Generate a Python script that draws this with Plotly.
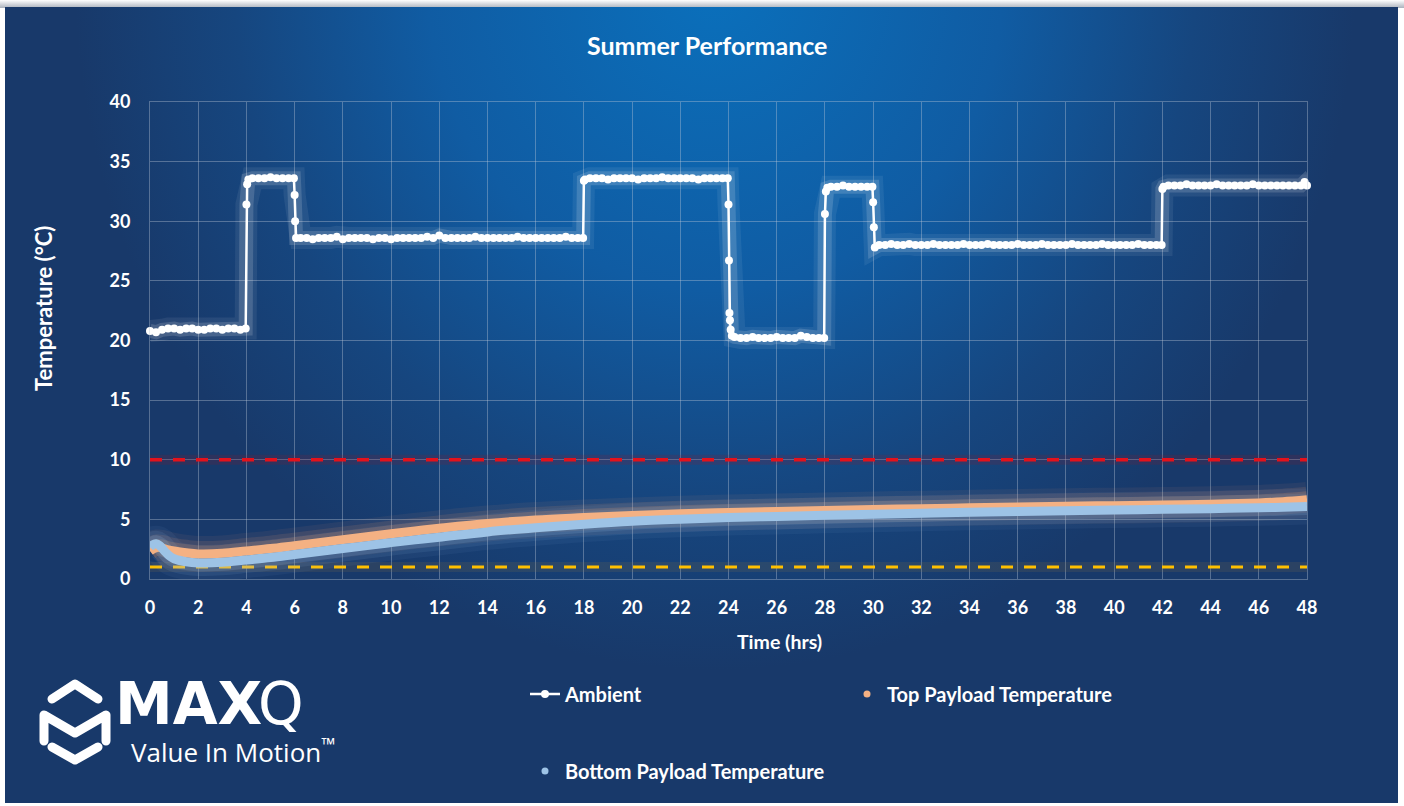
import base64
import plotly.graph_objects as go

# ---------------- data ----------------
# Ambient chamber temperature log (hours, °C)
ambient_hours = [
    0.00, 0.25, 0.50, 0.75, 1.00, 1.25, 1.50, 1.75, 2.00, 2.25, 2.50, 2.75, 3.00, 3.25, 3.50, 3.75, 3.97,
    4.00, 4.03, 4.08,
    4.25, 4.50, 4.75, 5.00, 5.25, 5.50, 5.75, 5.97,
    6.00, 6.02, 6.06,
    6.25, 6.50, 6.75, 7.00, 7.25, 7.50, 7.75, 8.00,
    8.25, 8.50, 8.75, 9.00, 9.25, 9.50, 9.75, 10.00,
    10.25, 10.50, 10.75, 11.00, 11.25, 11.50, 11.75, 12.00,
    12.25, 12.50, 12.75, 13.00, 13.25, 13.50, 13.75, 14.00,
    14.25, 14.50, 14.75, 15.00, 15.25, 15.50, 15.75, 16.00,
    16.25, 16.50, 16.75, 17.00, 17.25, 17.50, 17.75, 17.97,
    18.00, 18.05,
    18.25, 18.50, 18.75, 19.00, 19.25, 19.50, 19.75, 20.00,
    20.25, 20.50, 20.75, 21.00, 21.25, 21.50, 21.75, 22.00,
    22.25, 22.50, 22.75, 23.00, 23.25, 23.50, 23.75, 23.97,
    24.00, 24.02, 24.04, 24.06, 24.09, 24.14,
    24.25, 24.50, 24.75, 25.00, 25.25, 25.50, 25.75, 26.00,
    26.25, 26.50, 26.75, 27.00, 27.25, 27.50, 27.75, 27.97,
    28.00, 28.04, 28.10,
    28.25, 28.50, 28.75, 29.00, 29.25, 29.50, 29.75, 29.97,
    30.00, 30.03, 30.07,
    30.25, 30.50, 30.75, 31.00, 31.25, 31.50, 31.75, 32.00,
    32.25, 32.50, 32.75, 33.00, 33.25, 33.50, 33.75, 34.00,
    34.25, 34.50, 34.75, 35.00, 35.25, 35.50, 35.75, 36.00,
    36.25, 36.50, 36.75, 37.00, 37.25, 37.50, 37.75, 38.00,
    38.25, 38.50, 38.75, 39.00, 39.25, 39.50, 39.75, 40.00,
    40.25, 40.50, 40.75, 41.00, 41.25, 41.50, 41.75, 41.97,
    42.00, 42.05,
    42.25, 42.50, 42.75, 43.00, 43.25, 43.50, 43.75, 44.00,
    44.25, 44.50, 44.75, 45.00, 45.25, 45.50, 45.75, 46.00,
    46.25, 46.50, 46.75, 47.00, 47.25, 47.50, 47.75, 47.90, 48.00,
]
ambient_temp = [
    20.8, 20.7, 20.9, 21.0, 21.0, 20.9, 21.0, 21.0, 20.9, 20.9, 21.0, 21.0, 20.9, 21.0, 21.0, 20.9, 21.0,
    31.4, 33.1, 33.5,
    33.6, 33.6, 33.6, 33.7, 33.6, 33.6, 33.6, 33.6,
    32.2, 30.0, 28.6,
    28.6, 28.6, 28.5, 28.6, 28.6, 28.6, 28.7, 28.5,
    28.6, 28.6, 28.6, 28.6, 28.5, 28.6, 28.6, 28.5,
    28.6, 28.6, 28.6, 28.6, 28.6, 28.7, 28.6, 28.8,
    28.6, 28.6, 28.6, 28.6, 28.6, 28.7, 28.6, 28.6,
    28.6, 28.6, 28.6, 28.6, 28.7, 28.6, 28.6, 28.6,
    28.6, 28.6, 28.6, 28.6, 28.7, 28.6, 28.6, 28.6,
    33.4, 33.5,
    33.6, 33.6, 33.6, 33.5, 33.6, 33.6, 33.6, 33.6,
    33.5, 33.6, 33.6, 33.6, 33.7, 33.6, 33.6, 33.6,
    33.6, 33.6, 33.5, 33.6, 33.6, 33.6, 33.6, 33.6,
    31.4, 26.7, 22.3, 21.7, 20.9, 20.4,
    20.3, 20.2, 20.2, 20.3, 20.2, 20.2, 20.2, 20.3,
    20.2, 20.2, 20.2, 20.4, 20.3, 20.2, 20.2, 20.2,
    30.6, 32.5, 32.8,
    32.9, 32.9, 33.0, 32.9, 32.9, 32.9, 32.9, 32.9,
    31.6, 29.5, 27.8,
    28.0, 28.0, 28.1, 28.0, 28.0, 28.1, 28.0, 28.0,
    28.0, 28.1, 28.0, 28.0, 28.0, 28.0, 28.1, 28.0,
    28.0, 28.0, 28.1, 28.0, 28.0, 28.0, 28.0, 28.1,
    28.0, 28.0, 28.0, 28.1, 28.0, 28.0, 28.0, 28.0,
    28.1, 28.0, 28.0, 28.0, 28.0, 28.1, 28.0, 28.0,
    28.0, 28.0, 28.0, 28.1, 28.0, 28.0, 28.0, 28.0,
    32.7, 32.9,
    33.0, 33.0, 33.0, 33.1, 33.0, 33.0, 33.0, 33.0,
    33.1, 33.0, 33.0, 33.0, 33.0, 33.0, 33.1, 33.0,
    33.0, 33.0, 33.0, 33.0, 33.0, 33.0, 33.0, 33.3, 33.0,
]
assert len(ambient_hours) == len(ambient_temp)

# Payload probe readings (hours, °C)
top_hours = [0, 0.15, 0.3, 0.5, 0.75, 1, 1.5, 2, 3, 4, 5, 6, 7, 8, 9, 10, 11, 12, 14, 16, 18,
             20, 22, 24, 26, 28, 30, 32, 34, 36, 38, 40, 42, 44, 46, 47, 48]
top_payload = [2.35, 2.55, 2.65, 2.6, 2.45, 2.35, 2.2, 2.1, 2.15, 2.35, 2.55, 2.8, 3.05, 3.3,
               3.55, 3.8, 4.03, 4.25, 4.65, 4.95, 5.15, 5.33, 5.48, 5.58, 5.67, 5.75, 5.82,
               5.9, 5.97, 6.04, 6.1, 6.15, 6.2, 6.27, 6.38, 6.48, 6.64]
bottom_hours = [0, 0.1, 0.25, 0.4, 0.6, 0.8, 1, 1.5, 2, 3, 4, 5, 6, 7, 8, 9, 10, 11, 12, 14, 16,
                18, 20, 22, 24, 26, 28, 30, 32, 34, 36, 38, 40, 42, 44, 46, 47, 48]
bottom_payload = [2.65, 2.85, 2.95, 2.8, 2.35, 1.95, 1.7, 1.45, 1.35, 1.4, 1.6, 1.8, 2.05, 2.3,
                  2.55, 2.8, 3.05, 3.28, 3.5, 3.95, 4.3, 4.6, 4.85, 5.02, 5.15, 5.25, 5.35, 5.44,
                  5.52, 5.6, 5.67, 5.73, 5.79, 5.84, 5.9, 5.97, 6.02, 6.08]

# Acceptance band limits
limit_hours = [0, 48]
upper_limit = [10, 10]
lower_limit = [1, 1]

x_ticks = list(range(0, 49, 2))
y_ticks = list(range(0, 41, 5))

# ---------------- styling ----------------
W, H = 1404, 806
ML, MR, MT, MB = 150, 97, 102, 227
PW, PH = W - ML - MR, H - MT - MB

FONT = "Lato"
WHITE = "#ffffff"
ORANGE = "#f4b183"
BLUE = "#9dc3e6"
RED = "#e3121b"
YELLOW = "#ffc000"
GRID = "rgba(190,200,215,0.38)"


def px_x(p):
    return (p - ML) / PW


def px_y(p):
    return (H - MB - p) / PH


# Background panel with radial glow and the logo mark
svg = f"""<svg xmlns='http://www.w3.org/2000/svg' width='{W}' height='{H}' viewBox='0 0 {W} {H}'>
<defs>
<radialGradient id='g' gradientUnits='userSpaceOnUse' cx='0' cy='0' r='1'
 gradientTransform='translate(715 -20) scale(640 690)'>
<stop offset='0' stop-color='#0a70bc'/>
<stop offset='0.45' stop-color='#105ca3'/>
<stop offset='0.75' stop-color='#16467f'/>
<stop offset='1' stop-color='#18396a'/>
</radialGradient>
<linearGradient id='t' x1='0' y1='0' x2='0' y2='1'>
<stop offset='0' stop-color='#ffffff'/>
<stop offset='1' stop-color='#aab2bd'/>
</linearGradient>
</defs>
<rect width='{W}' height='{H}' fill='#ffffff'/>
<rect x='0' y='0' width='{W}' height='8' fill='url(#t)'/>
<rect x='5' y='7' width='1393' height='796' fill='url(#g)'/>
<g fill='none' stroke='#ffffff' stroke-width='9' stroke-linecap='round' stroke-linejoin='round'>
<path d='M52 699 L75 684 L98 699'/>
<path d='M44 741 L44 715 L75 733 L106 715 L106 741'/>
<path d='M52 747 L75 760 L98 747'/>
</g>
</svg>"""
bg_src = "data:image/svg+xml;base64," + base64.b64encode(svg.encode()).decode()

fig = go.Figure()


def glow(x, y, color, widths_alphas, shape="linear"):
    for w, a in widths_alphas:
        fig.add_trace(go.Scatter(
            x=x, y=y, mode="lines", showlegend=False, hoverinfo="skip",
            line=dict(color=color.format(a=a), width=w, shape=shape),
            cliponaxis=False))


# limit lines
glow(limit_hours, upper_limit, "rgba(150,20,40,{a})", [(10, 0.18)])
fig.add_trace(go.Scatter(x=limit_hours, y=upper_limit, mode="lines", showlegend=False,
                         line=dict(color=RED, width=3.5, dash="12px,11px"), hoverinfo="skip"))
glow(limit_hours, lower_limit, "rgba(140,120,60,{a})", [(10, 0.16)])
fig.add_trace(go.Scatter(x=limit_hours, y=lower_limit, mode="lines", showlegend=False,
                         line=dict(color=YELLOW, width=3, dash="12px,11px"), hoverinfo="skip"))

# payload glows
glow(top_hours, top_payload, "rgba(235,160,110,{a})", [(36, 0.07), (26, 0.12), (17, 0.2)], "spline")
glow(bottom_hours, bottom_payload, "rgba(150,190,230,{a})", [(36, 0.06), (26, 0.1), (17, 0.16)], "spline")

# ambient glow
glow(ambient_hours, ambient_temp, "rgba(255,255,255,{a})", [(22, 0.07), (14, 0.15)])

# Ambient
fig.add_trace(go.Scatter(
    x=ambient_hours, y=ambient_temp, name="Ambient", mode="lines+markers",
    line=dict(color=WHITE, width=2.5),
    marker=dict(color=WHITE, size=8), cliponaxis=False, legend="legend"))

# payload curves
fig.add_trace(go.Scatter(
    x=top_hours, y=top_payload, mode="lines", showlegend=False,
    line=dict(color=ORANGE, width=9, shape="spline"), cliponaxis=False))
fig.add_trace(go.Scatter(
    x=bottom_hours, y=bottom_payload, mode="lines", showlegend=False,
    line=dict(color=BLUE, width=9, shape="spline"), cliponaxis=False))

# legend entries for the payload series
fig.add_trace(go.Scatter(x=[None], y=[None], name="Top Payload Temperature", mode="markers",
                         marker=dict(color=ORANGE, size=7), legend="legend"))
fig.add_trace(go.Scatter(x=[None], y=[None], name="Bottom Payload Temperature", mode="markers",
                         marker=dict(color=BLUE, size=7), legend="legend2"))

bold = dict(family=FONT, color=WHITE, weight=700)

fig.update_layout(
    width=W, height=H,
    margin=dict(l=ML, r=MR, t=MT, b=MB, pad=0),
    paper_bgcolor="#ffffff",
    plot_bgcolor="rgba(0,0,0,0)",
    showlegend=True,
    images=[dict(source=bg_src, xref="paper", yref="paper",
                 x=px_x(0), y=px_y(0), sizex=W / PW, sizey=H / PH,
                 xanchor="left", yanchor="top", sizing="stretch", layer="below")],
    xaxis=dict(range=[0, 48], tickvals=x_ticks, ticktext=[str(v) for v in x_ticks],
               showgrid=True, gridcolor=GRID, gridwidth=1, zeroline=False,
               showline=True, linecolor=GRID, linewidth=1, mirror=True,
               ticks="", ticklabelstandoff=12, tickfont=dict(size=18, **bold)),
    yaxis=dict(range=[0, 40], tickvals=y_ticks, ticktext=[str(v) for v in y_ticks],
               showgrid=True, gridcolor=GRID, gridwidth=1, zeroline=False,
               showline=True, linecolor=GRID, linewidth=1, mirror=True,
               ticks="", ticklabelstandoff=15, tickfont=dict(size=18, **bold)),
    legend=dict(x=px_x(525), xanchor="left", y=px_y(694), yanchor="middle",
                orientation="h", entrywidth=277, entrywidthmode="pixels",
                bgcolor="rgba(0,0,0,0)", font=dict(size=20, **bold), itemwidth=30),
    legend2=dict(x=px_x(525), xanchor="left", y=px_y(771), yanchor="middle",
                 orientation="h", bgcolor="rgba(0,0,0,0)",
                 font=dict(size=20, **bold), itemwidth=30),
    annotations=[
        dict(text="Summer Performance", xref="paper", yref="paper",
             x=px_x(707), y=px_y(45), xanchor="center", yanchor="middle",
             showarrow=False, font=dict(size=25, **bold)),
        dict(text="Temperature (°C)", xref="paper", yref="paper",
             x=px_x(43), y=px_y(309), xanchor="center", yanchor="middle", textangle=-90,
             showarrow=False, font=dict(size=22, **bold)),
        dict(text="Time (hrs)", xref="paper", yref="paper",
             x=px_x(779), y=px_y(641), xanchor="center", yanchor="middle",
             showarrow=False, font=dict(size=19.5, **bold)),
        # logo word mark
        dict(text="MAX", xref="paper", yref="paper",
             x=px_x(113), y=px_y(704), xanchor="left", yanchor="middle",
             showarrow=False, font=dict(family="DejaVu Sans", size=58, color=WHITE, weight=800)),
        dict(text="Q", xref="paper", yref="paper",
             x=px_x(256), y=px_y(704), xanchor="left", yanchor="middle",
             showarrow=False, font=dict(family="DejaVu Sans", size=58, color=WHITE, weight=400)),
        dict(text="Value In Motion<sup>™</sup>", xref="paper", yref="paper",
             x=px_x(129), y=px_y(751), xanchor="left", yanchor="middle",
             showarrow=False, font=dict(family="Open Sans", size=26, color=WHITE)),
    ],
)

fig.write_html("out.html")
